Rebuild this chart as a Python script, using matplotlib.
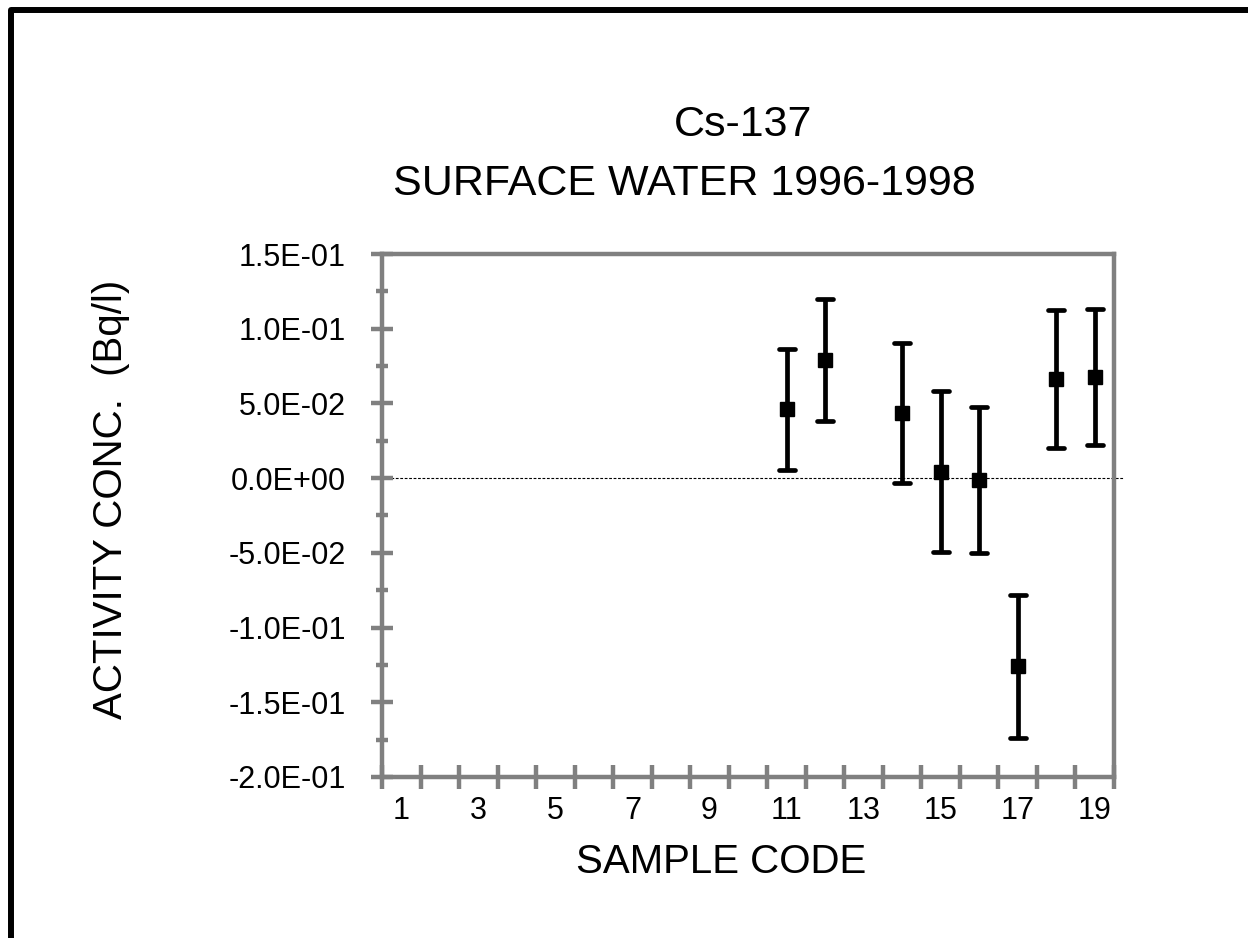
import matplotlib
matplotlib.use('Agg')
import matplotlib.pyplot as plt
from matplotlib.markers import MarkerStyle
from matplotlib.patches import Rectangle
from matplotlib.ticker import FixedLocator, FuncFormatter

plt.rcParams['font.family'] = ['Liberation Sans', 'DejaVu Sans']

# data
sample_codes = [11, 12, 14, 15, 16, 17, 18, 19]
activity = [0.046, 0.079, 0.0435, 0.0043, -0.001, -0.126, 0.0663, 0.0675]
uncertainty = [0.0406, 0.0407, 0.0467, 0.0538, 0.0488, 0.0476, 0.0459, 0.0456]
n_codes = 19
x_labels = [1, 3, 5, 7, 9, 11, 13, 15, 17, 19]
y_ticks = [-0.20, -0.15, -0.10, -0.05, 0.0, 0.05, 0.10, 0.15]

W, H = 1248, 938
GRAY = '#808080'

fig = plt.figure(figsize=(W / 100, H / 100), dpi=100)


def fx(x):
    return x / W


def fy(y):
    return 1 - y / H


# outer frame (only top and left edges are inside the picture)
fig.add_artist(Rectangle((fx(11), -0.1), 1.5, fy(10) + 0.1, transform=fig.transFigure,
                         fill=False, edgecolor='black', linewidth=4.3, joinstyle='round'))

ax = fig.add_axes([fx(382), fy(777), (1114 - 382) / W, (777 - 254) / H])

# zero line
ax.axhline(0, xmin=0, xmax=1.012, color='black', lw=0.8, ls=(0, (2.5, 1.5)), clip_on=False, zorder=1)

# data points with error bars
eb = ax.errorbar(sample_codes, activity, yerr=uncertainty, fmt='s', color='black',
                 markersize=10.5, elinewidth=3.4, capsize=5.6, capthick=3.4, zorder=3)
for cap in eb[1]:
    cap.set_marker(MarkerStyle('_', capstyle='round'))

ax.set_xlim(0.5, n_codes + 0.5)
ax.set_ylim(-0.2, 0.15)

# x axis: labels on odd codes, tick marks at category boundaries
ax.xaxis.set_major_locator(FixedLocator(x_labels))
ax.xaxis.set_minor_locator(FixedLocator([i + 0.5 for i in range(n_codes + 1)]))
ax.tick_params(axis='x', which='major', length=0, pad=14, labelsize=22)
ax.tick_params(axis='x', which='minor', direction='inout', length=17, width=3.2, color=GRAY)

# y axis
ax.yaxis.set_major_locator(FixedLocator(y_ticks))
ax.yaxis.set_minor_locator(FixedLocator([v + 0.025 for v in y_ticks[:-1]]))
ax.yaxis.set_major_formatter(FuncFormatter(lambda v, p: f'{v:.1E}'))
ax.tick_params(axis='y', which='major', direction='inout', length=16, width=3.2,
               color=GRAY, pad=18, labelsize=22)
ax.tick_params(axis='y', which='minor', direction='inout', length=8.6, width=3.2, color=GRAY)

for s in ax.spines.values():
    s.set_color(GRAY)
    s.set_linewidth(3.2)

# titles
fig.text(fx(743), fy(136), 'Cs-137', fontsize=31, ha='center', va='baseline')
fig.text(fx(684), fy(195), 'SURFACE WATER 1996-1998', fontsize=31, ha='center', va='baseline')
fig.text(fx(721), fy(873), 'SAMPLE CODE', fontsize=29, ha='center', va='baseline')
fig.text(fx(122), fy(499), 'ACTIVITY CONC.  (Bq/l)', fontsize=29, rotation=90,
         rotation_mode='anchor', ha='center', va='baseline')

fig.savefig('out.png', dpi=100)
